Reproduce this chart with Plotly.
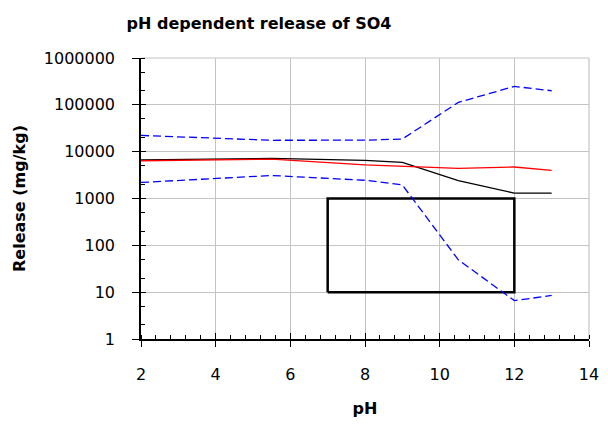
import plotly.graph_objects as go

ph = [2, 5.5, 8, 9, 10.5, 12, 13]
release_black = [6700, 7200, 6500, 5900, 2400, 1300, 1300]
release_red = [6400, 6900, 5200, 4800, 4400, 4700, 4000]
release_blue_upper = [22200, 17500, 17600, 18600, 113000, 247000, 200000]
release_blue_lower = [2200, 3100, 2450, 1950, 49, 6.6, 8.5]

box_x = [7, 12, 12, 7, 7]
box_y = [10, 10, 1000, 1000, 10]

y_tickvals = [1, 10, 100, 1000, 10000, 100000, 1000000]
y_ticktext = ["1", "10", "100", "1000", "10000", "100000", "1000000"]
x_tickvals = [2, 4, 6, 8, 10, 12, 14]

GRID = "#c4c4c4"
font_family = "DejaVu Sans"
W, H = 600, 418  # page body has an 8px margin inside the 608x426 window

fig = go.Figure()
fig.add_trace(go.Scatter(x=box_x, y=box_y, mode="lines",
                         line=dict(color="black", width=2.5), showlegend=False))
fig.add_trace(go.Scatter(x=ph, y=release_blue_upper, mode="lines",
                         line=dict(color="#0000ff", width=1.3, dash="8px,4px"), showlegend=False))
fig.add_trace(go.Scatter(x=ph, y=release_blue_lower, mode="lines",
                         line=dict(color="#0000ff", width=1.3, dash="8px,4px"), showlegend=False))
fig.add_trace(go.Scatter(x=ph, y=release_black, mode="lines",
                         line=dict(color="black", width=1.3), showlegend=False))
fig.add_trace(go.Scatter(x=ph, y=release_red, mode="lines",
                         line=dict(color="#ff0000", width=1.3), showlegend=False))
# helper trace so overlay axes (inner half of crossing major ticks) are drawn
fig.add_trace(go.Scatter(x=[None], y=[None], xaxis="x2", yaxis="y2",
                         mode="lines", showlegend=False, hoverinfo="skip"))

fig.update_layout(
    width=W, height=H,
    margin=dict(l=133, r=19, t=50, b=87),
    paper_bgcolor="white", plot_bgcolor="white",
    font=dict(family=font_family, size=16, color="black"),
    title=dict(text="<b>pH dependent release of SO4</b>", x=251 / W, xanchor="center",
               y=1 - 15 / H, yanchor="middle", font=dict(size=16, family=font_family)),
)
fig.update_xaxes(
    range=[2, 14], tickvals=x_tickvals, ticks="outside", ticklen=6, tickwidth=1.3,
    tickcolor="black", showline=True, linecolor="black", linewidth=1.5,
    showgrid=True, gridcolor=GRID, gridwidth=1.2, zeroline=False, automargin=False,
    minor=dict(dtick=0.4, ticks="inside", ticklen=4, tickcolor="black", tickwidth=1, showgrid=False),
    title=dict(text="<b>pH</b>", font=dict(size=16), standoff=20),
    tickfont=dict(size=16), ticklabelstandoff=14,
)
fig.update_yaxes(
    type="log", range=[0, 6], tickvals=y_tickvals, ticktext=y_ticktext,
    ticks="outside", ticklen=7, tickwidth=1.3, tickcolor="black",
    showline=True, linecolor="black", linewidth=1.5,
    showgrid=True, gridcolor=GRID, gridwidth=1.2, zeroline=False, automargin=False,
    minor=dict(ticks="inside", ticklen=4, tickcolor="black", tickwidth=1, showgrid=False),
    title=dict(text="<b>Release (mg/kg)</b>", font=dict(size=16), standoff=14),
    tickfont=dict(size=16), ticklabelstandoff=14,
)
fig.update_layout(
    xaxis2=dict(overlaying="x", matches="x", anchor="y", side="bottom",
                tickvals=x_tickvals, ticks="inside", ticklen=6, tickwidth=1.3,
                tickcolor="black", showticklabels=False, showgrid=False,
                showline=False, zeroline=False, automargin=False),
    yaxis2=dict(overlaying="y", matches="y", anchor="x", side="left", type="log",
                tickvals=y_tickvals, ticks="inside", ticklen=5, tickwidth=1.3,
                tickcolor="black", showticklabels=False, showgrid=False,
                showline=False, zeroline=False, automargin=False),
)
fig.add_shape(type="line", xref="paper", yref="paper", x0=1, x1=1, y0=0, y1=1,
              line=dict(color=GRID, width=1.2), layer="below")
fig.add_shape(type="line", xref="paper", yref="paper", x0=0, x1=1, y0=1, y1=1,
              line=dict(color=GRID, width=1.2), layer="below")

fig.write_html("out.html")
